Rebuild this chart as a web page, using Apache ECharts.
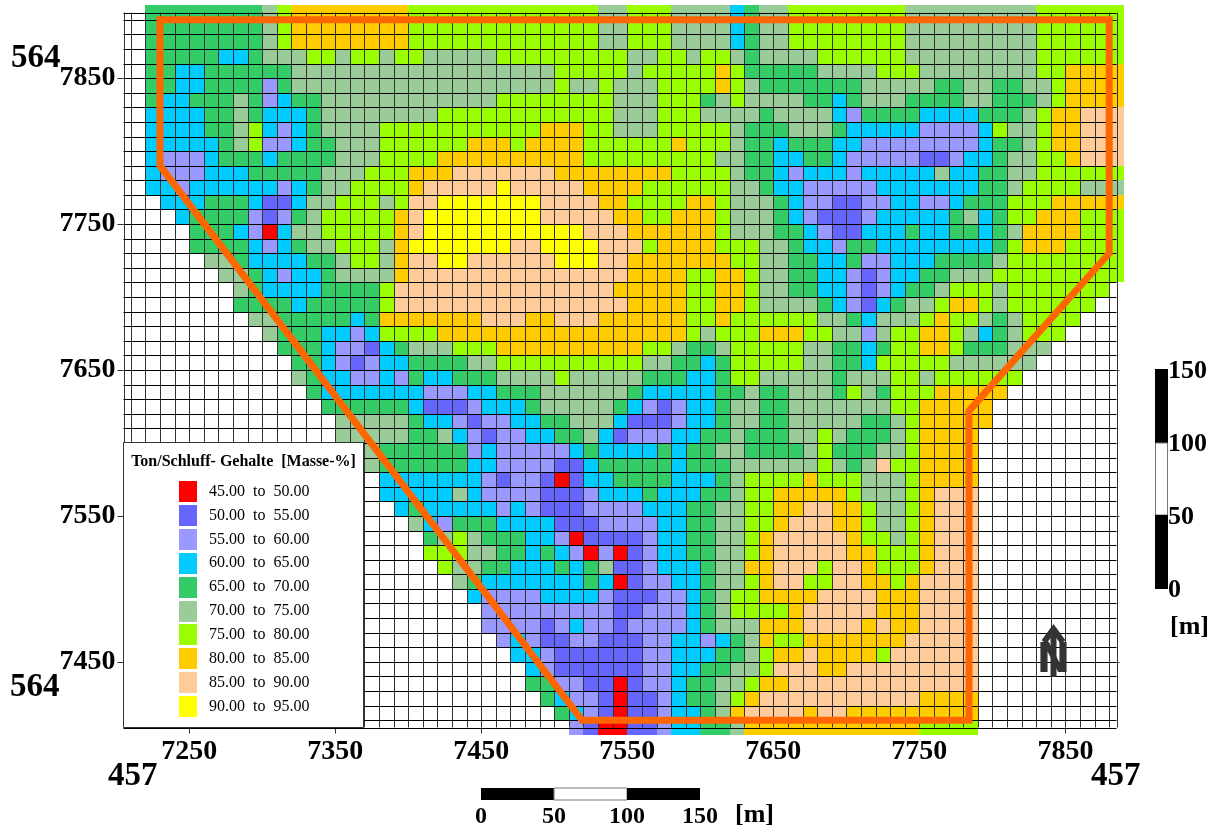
<!DOCTYPE html>
<html><head><meta charset="utf-8">
<style>html,body{margin:0;padding:0;background:#fff}#c{width:1218px;height:829px}</style>
<script src="https://cdn.jsdelivr.net/npm/echarts@6/dist/echarts.min.js"></script>
</head><body><div id="c"></div>
<script>
// class index per cell: 1=45-50 ... 9=85-90, 0=90-95, '.'=no data
const classColors = {1:'#FF0000',2:'#6666FF',3:'#9999FF',4:'#00CCFF',5:'#33CC66',6:'#99CC99',7:'#99FF00',8:'#FFCC00',9:'#FFCC99',0:'#FFFF00'};
const legendOrder = [1,2,3,4,5,6,7,8,9,0];
const legendLabels = ['45.00  to  50.00','50.00  to  55.00','55.00  to  60.00','60.00  to  65.00','65.00  to  70.00','70.00  to  75.00','75.00  to  80.00','80.00  to  85.00','85.00  to  90.00','90.00  to  95.00'];
const xTicks = [7250,7350,7450,7550,7650,7750,7850];
const yTicks = [7450,7550,7650,7750,7850];
const firstColX = 7225, topRowY = 7895, cellStep = 10;
const boundary = [[7230,7890],[7880,7890],[7880,7730],[7784,7622],[7784,7410],[7519,7410],[7230,7790],[7230,7890]];
const scaleLabels = ['0','50','100','150'];
const rows = [
"55555555 6 7 88888888 7777 777777777 66 777 6666 4 5 66 77777777 666666666 777777",
"55555555 6 7 88888888 7777 777777777 66 777 6666 4 5 66 77777777 666666666 777777",
"55555555 6 7 88888888 7777 777777777 66 777 6666 4 5 66 77777777 666666666 777777",
"55555 44 5 666 77 6 77 6 77 666 66 777777777 66 77 6 77 6 5 66 66 777777 666666666 777777",
"55 44 555555 666666666666 666666 77777 6 77777 8 7 555 55 6666 777 66666666 77 8888",
"55 44 5555 3 5 666666666666 666666 7 66 7 666 7777 8 7 6 55 55555 66666 55 66 55 66 7 8888",
"5 44 555 6 5 3 4 55 6666666666 66 77777777 666 777 5 6 7 666 6 55 4 5 666 5555 66 555 6 7 8888",
"4444 55 6 5 444 5 66666666 77 7777777777 666 777 6666 5 6 666 4 3 5555 4444 555 6 7 88 999",
"4444 55 6 7 4 3 4 5 6666 777777 77777 888 77 666 77777 6 555 666 5 44444 3333 4 7 66 7 88 999",
"44444 5 6 7 33 4 55 666 777777 888 7 8888 777777 8 777 6 55 4 555 44 33333333 4 55 6 7 88 999",
"4 333 4 555 4 5555 666 7777 88 88888888 777777777 66 55 4 4 55 4 33333 22 3 44 5 66 77 8 999",
"4 333 444 55555 666 777 888 9 999999 88888888 7777 6 55 4 3 444 3 44444 6 44 55 66 777777",
"44 3 444444 3 4 5 66 7777 8 999 99 0 99999 8888 777777 66 5 4 4 33333 4444444 55 6 7777 666",
". 444 555 4 22 4 66 777 6 7 99 00 00000 9999 88 7777 88 7 666 5 4 33 22 33 44 33 4 555 777 88888",
".. 4 5 555 3 2 3 5 6 77777 8 9 000 00000 99999 88 77 888 7 666 5 4 3 222 3 44444 5 6 4 5 77 888 777",
"... 555 4 3 1 4 66 77777 8 9 000 00000000 999 888888 7 666 5 5 4 3 22 444 5 44 55 4 5 6 8888 777",
"... 5555 4 3 4 5 66 777 6 8 0000 000 99 0000 999 7 8888 777 66 5 44 3 55 44444444 5 7 888 7777",
".... 66 5 4444 55 6 77 6 8 99 00 999999 000 99 8888888 77 66 55 44 5 33 444 5555 6 77777777",
"..... 6 6 5 4 3 44 5 6666 8 9999 99999999999 8888 77 88 7 66 55 44 3 2 3 44 55 666 777777777",
"...... 6 5 4444 5555 7 99999 9999999999 88888 77 88 7 66 55 44 3 2 3 4 55 6 777 6 7777777 .",
"...... 55 5 5 4 55555 7 99999 99999999999 8888 77 88 7 66 66 5 4 3 2 4 5 66 7 88 7 6 777777 ..",
"....... 66 5 5555 4 5 888888 8 999 88 999 888888 77 8 7777 77 66 5 4 666 7 8 77 6 5 6 7777 ...",
"........ 6 5 5 5 44 3 4 7777 88 888888888888888 7 6 777 88 8 77 66 3 6 77 88 7 6 4 5 6 777 ....",
"......... 555 4 33 2 4 5 666 7 77 8888888888 77 6 55 6 7777 7 66 55 4 5 77 88 7 555 666 .....",
".......... 55 4 3 2 3 44 5555 66 7777777777 66 55 4 5 7777 7 66 55 4 77777 666666 ......",
".......... 6 5 44 33 4 3 5 44 5 55 6666 7 66666 555 44 5 77 66 666 5 666 77 6 777777 .......",
"........... 5 4444444 333 44 555 666666 5 44444 55 6 55 666 5 7 6 5 777 88888 ........",
"............ 5 5 5555 4 222 3 444 5 66666 5 4 3 2 3 44 5 66 55 6666666 77 88888 .........",
"............. 66666 5 44 3 2 33 44 55 666 4 222 3 44 5 66 55 66666 55 6 7 88888 .........",
"............. 66666 55 6 4 3 2 33 44 55 6 4 2 333 44 55 6 555 66 7 6 555 6 7 8888 ..........",
"............... 6 5 55555 3 4 33333 4 5 4444 5 4 55 66 555 5 6 7 555 66 7 8888 ..........",
"............... 6 5 55555 44 3333 22 4 55555 4 555 6666 66 7 6 5 6 9 77 8888 ..........",
"................ 444444 4 3 2 33 2 1 2 44 5555 444 5 6 777 7 8 777 666 7 8888 ..........",
"................ 44444 6 4 3333 222 3 444 5 444 55 6 77 88888 7 666 7 8 999 ..........",
"................. 4 5 44444 3 4 3 222 3333 444 55 66 77 88 99 88 7 66 7 8 999 ..........",
".................. 6 4 3 555 4444 222 3333 44 55 66 77 8 999 88 7 66 7 8 999 ..........",
"................... 5 6 7 6 555 44 3 1 2222 3 44 55 66 7 8 99999 8 77 6 7 8 999 ..........",
"................... 777 66 55 4 5 4 3 1 3 1 2 3 44 55 66 7 8 99999 88 777 8 999 ..........",
".................... 7 66 55 444 5 4 5 6 22 3 444 5 66 88 999 7 99 8 777 8 999 ..........",
"..................... 6 5 4444444 5 4 1 2 33 44 5 66 7 8 99 77 99 88 7 8 9999 ..........",
"...................... 4 3333 4444 3 222 33 4 5 6 77 8888 9999 888 9999 ..........",
"....................... 333333333 22 333 4 5 6 7777 8 99999 888 9999 ..........",
"....................... 3333 2 3 4 33 2 3333 4 5 666 888 9999 8 9 88 9999 ..........",
"........................ 3 4 3 22 33 222 33 44 3 4 5 6 8 77 8888888 99999 ..........",
"......................... 44 3 222222 33 444 55 6 7 88 9 8888 7 999999 ..........",
".......................... 4 3 222222 33 44 55 66 7 999 88 999999999 ..........",
".......................... 55 33 22 1 2 33 4 55 66 7 88 9999999999999 ..........",
"........................... 5 4 33 2 1 22 3 4 55 6 7 8 99999999999 8888 ..........",
"............................ 5 4 3 2 1 22 3 44 5 6 8 9999 8 99 888888888 ..........",
"............................. 3 2 11 22 3 44 55 6 888888888888 7777 .........."
].map(r => r.replace(/ /g,''));

// cell table built from the rows
const cells = [];
rows.forEach((row,k) => { for (let i=0;i<row.length;i++){ if(row[i]!=='.') cells.push([firstColX+cellStep*i, topRowY-cellStep*k, +row[i]]); } });
const meshXs = [7205]; for(let v=7210;v<=7880;v+=cellStep) meshXs.push(v); meshXs.push(7885);
const meshYs = [7405]; for(let v=7410;v<=7890;v+=cellStep) meshYs.push(v); meshYs.push(7895);
const mesh = meshXs.map(v=>[0,v]).concat(meshYs.map(v=>[1,v]));
const xMin=7205,xMax=7885,yMin=7405,yMax=7895;

const serif='"Liberation Serif"';
function txt(text,x,y,size,opt){opt=opt||{};return {type:'text',z:20,silent:true,style:{text:text,x:x,y:y,font:(opt.weight||'bold')+' '+size+'px '+serif,fill:'#000',textAlign:opt.align||'left',textVerticalAlign:'middle'}};}
function box(x,y,w,h,fill,stroke){return {type:'rect',z:20,silent:true,shape:{x:x,y:y,width:w,height:h},style:{fill:fill,stroke:stroke||null,lineWidth:stroke?1:0}};}
const g=[];
// legend
g.push(box(123.5,442.5,240,285,'#fff','#333'));
g.push(txt('Ton/Schluff- Gehalte  [Masse-%]',243.5,462,16,{align:'center'}));
legendOrder.forEach((c,i)=>{const cy=491.5+23.9*i;g.push(box(179,Math.round(cy-10.5),18,21,classColors[c]));g.push(txt(legendLabels[i],209,cy,16,{weight:'normal'}));});
// corner labels
g.push(txt('564',11,58,33));g.push(txt('564',10,687,33));g.push(txt('457',108,776,33));g.push(txt('457',1091,776,33));
// horizontal scale bar
g.push(box(481,788,73,12,'#000'));g.push(box(554,788,73,12,'#fff','#777'));g.push(box(627,788,73,12,'#000'));
scaleLabels.forEach((s,i)=>g.push(txt(s,481+73*i,817,24,{align:'center'})));
g.push(txt('[m]',735,815,26));
// vertical scale bar
g.push(box(1155,369,13,74,'#000'));g.push(box(1155.5,443,12,72,'#fff','#777'));g.push(box(1155,515,13,74,'#000'));
scaleLabels.forEach((s,i)=>g.push(txt(s,1168,590-73*i,26)));
g.push(txt('[m]',1170,627,26));
// north arrow
g.push({type:'text',z:20,silent:true,style:{text:'N',x:1053.5,y:662,font:'bold 40px "DejaVu Sans"',fill:'#333',textAlign:'center',textVerticalAlign:'middle'}});
g.push({type:'polyline',z:21,silent:true,shape:{points:[[1053.5,677],[1053.5,628]]},style:{stroke:'#333',lineWidth:6,fill:null}});
g.push({type:'polyline',z:21,silent:true,shape:{points:[[1044,642],[1053.5,629],[1063,642]]},style:{stroke:'#333',lineWidth:6,fill:null}});

const chart=echarts.init(document.getElementById('c'),null,{renderer:'canvas'});
const hidden={show:false};
const plain=v=>String(v);
chart.setOption({
 animation:false,
 grid:{left:123.5,top:12.5,width:993,height:715,containLabel:false,show:false},
 xAxis:[
  {type:'value',min:xMin,max:xMax,position:'bottom',axisLine:hidden,splitLine:hidden,
   axisTick:{show:true,length:6,inside:false,customValues:xTicks,lineStyle:{color:'#333'}},
   axisLabel:{customValues:xTicks,formatter:plain,fontFamily:serif,fontWeight:'bold',fontSize:28,color:'#000',margin:10}},
  {type:'value',min:xMin,max:xMax,position:'top',axisLine:hidden,splitLine:hidden,
   axisTick:{show:true,length:3,customValues:xTicks,lineStyle:{color:'#333'}},axisLabel:hidden}],
 yAxis:[
  {type:'value',min:yMin,max:yMax,position:'left',axisLine:hidden,splitLine:hidden,
   axisTick:{show:true,length:6,customValues:yTicks,lineStyle:{color:'#333'}},
   axisLabel:{customValues:yTicks,formatter:plain,fontFamily:serif,fontWeight:'bold',fontSize:28,color:'#000',margin:8,padding:[9,0,0,0]}},
  {type:'value',min:yMin,max:yMax,position:'right',axisLine:hidden,splitLine:hidden,
   axisTick:{show:true,length:3,customValues:yTicks,lineStyle:{color:'#333'}},axisLabel:hidden}],
 graphic:{elements:g},
 series:[
  {type:'custom',z:2,clip:false,silent:true,data:cells,encode:{x:0,y:1},
   renderItem:(p,api)=>{const c=api.coord([api.value(0),api.value(1)]),s=api.size([cellStep,cellStep]);
     const x0=Math.round(c[0]-s[0]/2),x1=Math.round(c[0]+s[0]/2),y0=Math.round(c[1]-s[1]/2),y1=Math.round(c[1]+s[1]/2);
     return {type:'rect',shape:{x:x0,y:y0,width:x1-x0,height:y1-y0},style:{fill:classColors[api.value(2)]}};}},
  {type:'custom',z:3,clip:false,silent:true,data:mesh,dimensions:['kind','v'],encode:{},
   renderItem:(p,api)=>{const kind=api.value(0),v=api.value(1);
     const a=kind===0?api.coord([v,yMin]):api.coord([xMin,v]),b=kind===0?api.coord([v,yMax]):api.coord([xMax,v]);
     const f=n=>Math.round(n)+0.5;
     const sh=kind===0?{x1:f(a[0]),y1:a[1],x2:f(a[0]),y2:b[1]}:{x1:a[0],y1:f(a[1]),x2:b[0],y2:f(a[1])};
     return {type:'line',shape:sh,style:{stroke:kind===0?'#333':'#000',lineWidth:1}};}},
  {type:'line',z:5,clip:false,silent:true,data:boundary,symbol:'none',showSymbol:false,
   lineStyle:{color:'#FF6600',width:7,cap:'square',join:'miter',opacity:1}}
 ]
});
</script></body></html>
